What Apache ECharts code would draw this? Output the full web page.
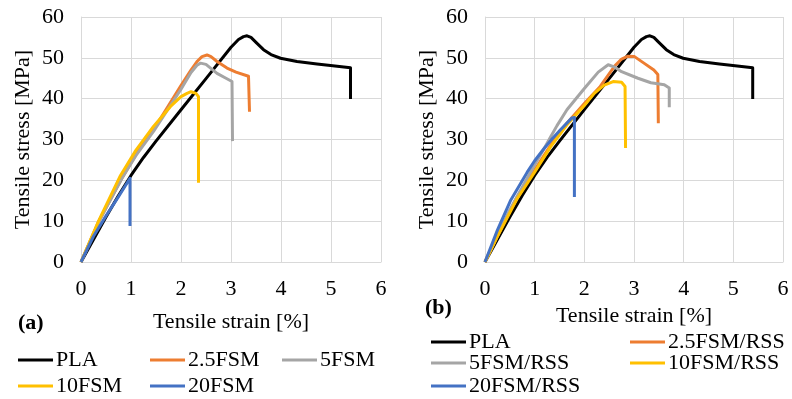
<!DOCTYPE html>
<html>
<head>
<meta charset="utf-8">
<script src="https://cdn.jsdelivr.net/npm/echarts@6/dist/echarts.min.js"></script>
<style>
  html, body { margin: 0; padding: 0; background: #fff; }
  #chart { width: 792px; height: 399px; }
</style>
</head>
<body>
<div id="chart"></div>
<script>
// strain [%], stress [MPa] pairs
const pla = [[0, 0], [0.25, 5.5], [0.5, 11], [0.75, 16.3], [1, 21.2], [1.25, 25.6], [1.5, 29.6], [2, 37.3], [2.5, 44.9],
  [3, 52.6], [3.15, 54.5], [3.25, 55.2], [3.32, 55.4], [3.4, 55], [3.5, 53.8], [3.65, 52], [3.8, 50.8], [3.99, 49.9],
  [4.32, 49.1], [4.72, 48.5], [4.99, 48.1], [5.39, 47.6], [5.39, 39.9]];

// (a) PLA/FSM
const fsm25 = [[0, 0], [0.35, 9.8], [0.82, 20.6], [1.1, 26.4], [1.45, 32.4], [1.99, 43], [2.2, 47], [2.32, 49.1],
  [2.42, 50.3], [2.52, 50.7], [2.6, 50.3], [2.72, 49.1], [2.92, 47.5], [3.1, 46.5], [3.35, 45.5], [3.37, 36.8]];
const fsm5 = [[0, 0], [0.35, 9.8], [0.82, 20.5], [1.1, 26.1], [1.45, 32], [2, 42.3], [2.2, 46.4], [2.32, 48.2],
  [2.39, 48.7], [2.5, 48.4], [2.72, 46.2], [2.9, 45], [3.02, 44.2], [3.03, 29.6]];
const fsm10 = [[0, 0], [0.35, 10], [0.79, 21.2], [1.1, 27.4], [1.45, 33.2], [1.79, 38.1], [2, 40.5], [2.12, 41.3],
  [2.2, 41.7], [2.3, 41.3], [2.35, 40.5], [2.35, 19.4]];
const fsm20 = [[0, 0], [0.25, 6.3], [0.5, 11.3], [0.75, 16], [0.98, 20.5], [0.98, 8.8]];

// (b) PLA/FSM/RSS
const rss25 = [[0, 0], [0.25, 6.5], [0.65, 16], [1, 22.5], [1.32, 28.6], [1.65, 34], [2, 38.8], [2.32, 43], [2.61, 48],
  [2.75, 49.7], [2.88, 50.4], [3.01, 50.3], [3.2, 48.7], [3.4, 47], [3.48, 45.9], [3.49, 34]];
const rss5 = [[0, 0], [0.5, 12.8], [1, 23.8], [1.2, 28], [1.32, 30.6], [1.45, 33.4], [1.65, 37.3], [2, 42.5],
  [2.28, 46.5], [2.48, 48.3], [2.6, 47.8], [2.75, 46.6], [3.08, 45], [3.34, 43.9], [3.61, 43.4], [3.71, 42.6],
  [3.71, 37.9]];
const rss10 = [[0, 0], [0.25, 6.2], [0.65, 15.6], [1, 22], [1.32, 28.2], [1.65, 33.6], [2, 38.3], [2.2, 41.3],
  [2.4, 43.3], [2.58, 44.2], [2.75, 44], [2.82, 43], [2.83, 27.9]];
const rss20 = [[0, 0], [0.25, 7.8], [0.52, 15.2], [0.85, 22], [1, 24.8], [1.19, 27.8], [1.35, 30.1], [1.52, 32.4],
  [1.75, 35.3], [1.78, 35.6], [1.8, 35.4], [1.8, 15.9]];

const namesA = ['PLA', '2.5FSM', '5FSM', '10FSM', '20FSM'];
const namesB = ['PLA', '2.5FSM/RSS', '5FSM/RSS', '10FSM/RSS', '20FSM/RSS'];
const colors = ['#000000', '#ED7D31', '#A5A5A5', '#FFC000', '#4472C4'];

const FONT = '"Liberation Serif", "Times New Roman", serif';

const seriesA = [pla, fsm25, fsm5, fsm10, fsm20];
const seriesB = [pla, rss25, rss5, rss10, rss20];

function makeSeries(names, sets, axisIdx) {
  return sets.map((d, i) => ({
    name: names[i],
    type: 'line',
    xAxisIndex: axisIdx,
    yAxisIndex: axisIdx,
    data: d,
    showSymbol: false,
    animation: false,
    lineStyle: { color: colors[i], width: 3, join: 'round' },
    itemStyle: { color: colors[i] },
  }));
}

function makeXAxis(gridIndex, nameGap) {
  return {
    gridIndex,
    type: 'value',
    min: 0,
    max: 6,
    interval: 1,
    name: 'Tensile strain [%]',
    nameLocation: 'middle',
    nameGap,
    nameTextStyle: { fontFamily: FONT, fontSize: 22, color: '#000' },
    axisLine: { lineStyle: { color: '#d9d9d9' } },
    axisTick: { show: false },
    axisLabel: { fontFamily: FONT, fontSize: 22, color: '#000', margin: 16 },
    splitLine: { lineStyle: { color: '#d9d9d9', width: 1 } },
  };
}

function makeYAxis(gridIndex) {
  return {
    gridIndex,
    type: 'value',
    min: 0,
    max: 60,
    interval: 10,
    name: 'Tensile stress [MPa]',
    nameLocation: 'middle',
    nameGap: 47,
    nameTextStyle: { fontFamily: FONT, fontSize: 22, color: '#000' },
    axisLine: { show: true, lineStyle: { color: '#d9d9d9' } },
    axisTick: { show: false },
    axisLabel: { fontFamily: FONT, fontSize: 22, color: '#000', margin: 17 },
    splitLine: { lineStyle: { color: '#d9d9d9', width: 1 } },
  };
}

// one legend per entry so the columns line up like the original
function legendItem(name, left, centerY) {
  return {
    data: [name],
    left,
    top: centerY - 11,
    padding: 0,
    icon: 'rect',
    itemWidth: 35,
    itemHeight: 3,
    itemGap: 0,
    selectedMode: false,
    textStyle: { fontFamily: FONT, fontSize: 22, color: '#000', padding: [0, 0, 0, -2] },
  };
}

const legends = [
  legendItem(namesA[0], 18, 360), legendItem(namesA[1], 150, 360), legendItem(namesA[2], 282, 360),
  legendItem(namesA[3], 18, 386), legendItem(namesA[4], 150, 386),
  legendItem(namesB[0], 431, 342), legendItem(namesB[1], 630, 342),
  legendItem(namesB[2], 431, 363), legendItem(namesB[3], 630, 363),
  legendItem(namesB[4], 431, 386),
];

const chart = echarts.init(document.getElementById('chart'), null, { renderer: 'canvas' });
chart.setOption({
  animation: false,
  grid: [
    { left: 81, top: 17, width: 300, height: 245 },
    { left: 485, top: 17, width: 298, height: 245 },
  ],
  xAxis: [makeXAxis(0, 49), makeXAxis(1, 41)],
  yAxis: [makeYAxis(0), makeYAxis(1)],
  legend: legends,
  graphic: [
    { type: 'text', left: 18, top: 312, style: { text: '(a)', font: 'bold 22px ' + FONT, fill: '#000' } },
    { type: 'text', left: 425, top: 297, style: { text: '(b)', font: 'bold 22px ' + FONT, fill: '#000' } },
  ],
  series: makeSeries(namesA, seriesA, 0).concat(makeSeries(namesB, seriesB, 1)),
});
</script>
</body>
</html>
